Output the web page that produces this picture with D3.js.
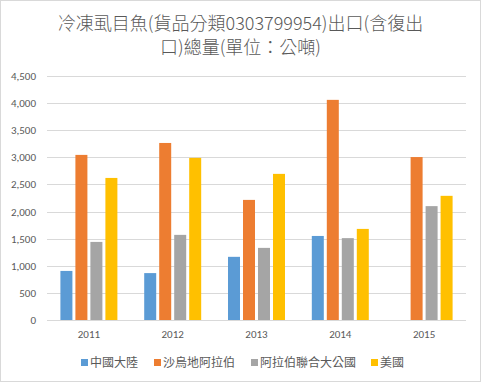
<!DOCTYPE html>
<html><head><meta charset="utf-8">
<script src="https://cdn.jsdelivr.net/npm/d3@7/dist/d3.min.js"></script>
<style>body{margin:0;background:#fff}svg{display:block}text{font-family:"Microsoft JhengHei","Noto Sans CJK TC",sans-serif}</style>
</head><body>
<script>
const titleLines = ["冷凍虱目魚(貨品分類0303799954)出口(含復出", "口)總量(單位：公噸)"];
const years = ["2011", "2012", "2013", "2014", "2015"];
const seriesNames = ["中國大陸", "沙烏地阿拉伯", "阿拉伯聯合大公國", "美國"];
const china = [905, 865, 1165, 1550, null];
const saudi = [3045, 3265, 2215, 4060, 3005];
const uae = [1440, 1570, 1330, 1510, 2100];
const usa = [2620, 2990, 2695, 1680, 2290];
const seriesValues = [china, saudi, uae, usa];
const colors = ["#5B9BD5", "#ED7D31", "#A5A5A5", "#FFC000"];
const yTicks = [0, 500, 1000, 1500, 2000, 2500, 3000, 3500, 4000, 4500];

const W = 481, H = 382;
const svg = d3.select("body").append("svg").attr("width", W).attr("height", H);
svg.append("rect").attr("x", 0.5).attr("y", 0.5).attr("width", W - 1).attr("height", H - 1)
  .attr("fill", "#fff").attr("stroke", "#d9d9d9");

const m = {left: 47, right: 15, top: 76, bottom: 62};
const x0 = d3.scaleBand().domain(years).range([m.left, W - m.right]).paddingInner(0.32).paddingOuter(0.16);
const x1 = d3.scaleBand().domain(d3.range(seriesNames.length)).range([0, x0.bandwidth()]).paddingInner(0.2);
const y = d3.scaleLinear().domain([0, 4500]).range([H - m.bottom, m.top]);

const g = svg.append("g");
g.selectAll("line.grid").data(yTicks).join("line")
  .attr("x1", m.left).attr("x2", W - m.right)
  .attr("y1", d => Math.round(y(d)) + 0.5).attr("y2", d => Math.round(y(d)) + 0.5)
  .attr("stroke", "#d9d9d9").attr("stroke-width", 1);

const numFont = "Calibri, Carlito, 'Liberation Sans', Arial, sans-serif";
const yAxis = d3.axisLeft(y).tickValues(yTicks).tickFormat(d3.format(",")).tickSize(0).tickPadding(11);
const ya = svg.append("g").attr("transform", `translate(${m.left},0)`).call(yAxis);
ya.select(".domain").remove();
ya.selectAll("text").attr("fill", "#595959").style("font-size", "11px").style("font-family", numFont);

const xAxis = d3.axisBottom(x0).tickSize(0).tickPadding(10);
const xa = svg.append("g").attr("transform", `translate(0,${y(0)})`).call(xAxis);
xa.select(".domain").remove();
xa.selectAll("text").attr("fill", "#595959").style("font-size", "11px").style("font-family", numFont);

seriesValues.forEach((vals, si) => {
  svg.append("g").selectAll("rect").data(years.map((yr, i) => ({yr, v: vals[i]})).filter(d => d.v != null)).join("rect")
    .attr("x", d => x0(d.yr) + x1(si))
    .attr("width", x1.bandwidth())
    .attr("y", d => y(d.v))
    .attr("height", d => y(0) - y(d.v))
    .attr("fill", colors[si]);
});

svg.append("g").selectAll("text").data(titleLines).join("text")
  .attr("x", W / 2).attr("y", (d, i) => 30 + i * 24)
  .attr("text-anchor", "middle").attr("fill", "#595959").style("font-size", "18px").style("font-weight", 300)
  .text(d => d);

const legX = [81, 154, 251, 371];
const lg = svg.append("g").selectAll("g").data(seriesNames).join("g")
  .attr("transform", (d, i) => `translate(${legX[i]},359)`);
lg.append("rect").attr("width", 7).attr("height", 7).attr("fill", (d, i) => colors[i]);
lg.append("text").attr("x", 9).attr("y", 7.5).attr("fill", "#595959").style("font-size", "12px").text(d => d);
</script>
</body></html>
